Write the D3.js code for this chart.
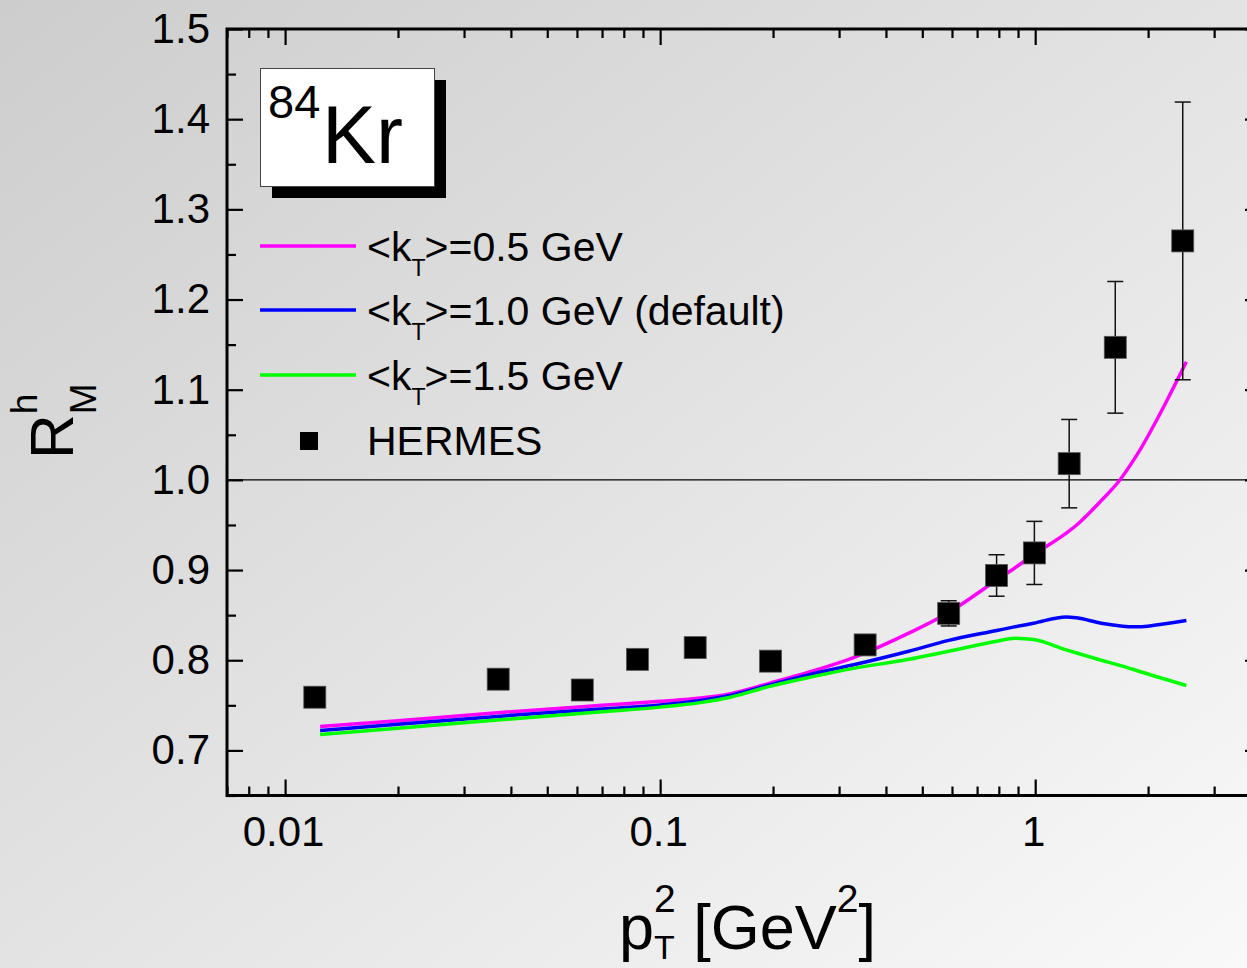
<!DOCTYPE html>
<html>
<head>
<meta charset="utf-8">
<script src="https://cdn.jsdelivr.net/npm/d3@7"></script>
<style>
  html, body { margin: 0; padding: 0; background: #e3e3e3; }
  svg { display: block; font-family: Arial, "Liberation Sans", Helvetica, sans-serif; }
</style>
</head>
<body>
<svg id="chart" width="1247" height="968"></svg>
<script>
// HERMES data: R_M^h versus p_T^2 for 84Kr
const hermesPt2 = [0.012, 0.037, 0.062, 0.087, 0.124, 0.197, 0.352, 0.588, 0.789, 0.995, 1.232, 1.635, 2.474];
const hermesR   = [0.759, 0.779, 0.767, 0.801, 0.814, 0.799, 0.817, 0.852, 0.894, 0.919, 1.018, 1.147, 1.265];
const hermesErr = [0.008, 0.008, 0.008, 0.008, 0.008, 0.008, 0.008, 0.014, 0.023, 0.035, 0.049, 0.073, 0.154];

// model curves for three values of <k_T>
const curvePt2 = [0.0124, 0.02, 0.0375, 0.07, 0.1, 0.128, 0.154, 0.196, 0.25, 0.328, 0.46, 0.588, 0.79, 0.88, 0.99, 1.21, 1.29, 1.5, 1.69, 1.82, 1.9, 2.1, 2.53];
const kt05 = [0.7265, 0.733, 0.742, 0.750, 0.7545, 0.758, 0.763, 0.7746, 0.787, 0.803, 0.830, 0.853, 0.889, 0.902, 0.917, 0.941, 0.950, 0.977, 1.001, 1.0205, 1.0327, 1.065, 1.131];
const kt10 = [0.722, 0.729, 0.738, 0.746, 0.7505, 0.7555, 0.761, 0.7725, 0.784, 0.795, 0.810, 0.822, 0.833, 0.837, 0.841, 0.848, 0.847, 0.841, 0.838, 0.837, 0.837, 0.839, 0.844];
const kt15 = [0.7176, 0.7245, 0.734, 0.743, 0.748, 0.753, 0.759, 0.771, 0.781, 0.791, 0.801, 0.810, 0.821, 0.8245, 0.823, 0.8115, 0.808, 0.800, 0.794, 0.790, 0.7875, 0.782, 0.772];

const seriesNames  = ["=0.5 GeV", "=1.0 GeV (default)", "=1.5 GeV"];
const seriesColors = ["#ff00ff", "#0000ff", "#00ff00"];

// axis ticks
const xMajor = [0.01, 0.1, 1];
const xMajorLabels = ["0.01", "0.1", "1"];
const yMajor = [0.7, 0.8, 0.9, 1.0, 1.1, 1.2, 1.3, 1.4, 1.5];
const yMajorLabels = ["0.7", "0.8", "0.9", "1.0", "1.1", "1.2", "1.3", "1.4", "1.5"];
const yMinor = [0.65, 0.75, 0.85, 0.95, 1.05, 1.15, 1.25, 1.35, 1.45];

const W = 1247, H = 968;
const plot = { left: 227, top: 29, right: 1261, bottom: 795.5 };

const svg = d3.select("#chart");

// background
const defs = svg.append("defs");
const grad = defs.append("linearGradient").attr("id", "bg")
  .attr("x1", 0).attr("y1", 0).attr("x2", 1).attr("y2", 1);
grad.append("stop").attr("offset", "0%").attr("stop-color", "#cdcdcd");
grad.append("stop").attr("offset", "100%").attr("stop-color", "#f9f9f9");
svg.append("rect").attr("width", W).attr("height", H).attr("fill", "url(#bg)");

const x = d3.scaleLog().domain([0.007, 4]).range([plot.left, plot.right]);
const y = d3.scaleLinear().domain([0.65, 1.5]).range([plot.bottom, plot.top]);

// minor x ticks: 2..9 in every decade inside the domain
const xMinor = [];
[0.001, 0.01, 0.1, 1].forEach(d => { for (let k = 2; k <= 9; k++) { const v = d * k; if (v >= 0.007 && v <= 4) xMinor.push(v); } });

const tickFont = 42;
function styleAxis(g) {
  g.select(".domain").remove();
  g.selectAll(".tick line").attr("stroke", "#000").attr("stroke-width", 2.2);
  g.selectAll(".tick text").attr("fill", "#000").attr("font-size", tickFont).attr("font-family", null);
}

// bottom axis
svg.append("g").attr("transform", `translate(0,${plot.bottom})`)
  .call(d3.axisBottom(x).tickValues(xMajor).tickSizeInner(-16).tickSizeOuter(0).tickPadding(21)
    .tickFormat((d, i) => xMajorLabels[i]))
  .call(styleAxis)
  .call(g => g.selectAll(".tick text").attr("dx", -2));
svg.append("g").attr("transform", `translate(0,${plot.bottom})`)
  .call(d3.axisBottom(x).tickValues(xMinor).tickSizeInner(-9).tickSizeOuter(0).tickFormat(""))
  .call(styleAxis);
// top axis
svg.append("g").attr("transform", `translate(0,${plot.top})`)
  .call(d3.axisTop(x).tickValues(xMajor).tickSizeInner(-16).tickSizeOuter(0).tickFormat(""))
  .call(styleAxis);
svg.append("g").attr("transform", `translate(0,${plot.top})`)
  .call(d3.axisTop(x).tickValues(xMinor).tickSizeInner(-9).tickSizeOuter(0).tickFormat(""))
  .call(styleAxis);
// left axis
svg.append("g").attr("transform", `translate(${plot.left},0)`)
  .call(d3.axisLeft(y).tickValues(yMajor).tickSizeInner(-16).tickSizeOuter(0).tickPadding(17)
    .tickFormat((d, i) => yMajorLabels[i]))
  .call(styleAxis);
svg.append("g").attr("transform", `translate(${plot.left},0)`)
  .call(d3.axisLeft(y).tickValues(yMinor).tickSizeInner(-9).tickSizeOuter(0).tickFormat(""))
  .call(styleAxis);
// right axis
svg.append("g").attr("transform", `translate(${plot.right},0)`)
  .call(d3.axisRight(y).tickValues(yMajor).tickSizeInner(-16).tickSizeOuter(0).tickFormat(""))
  .call(styleAxis);
svg.append("g").attr("transform", `translate(${plot.right},0)`)
  .call(d3.axisRight(y).tickValues(yMinor).tickSizeInner(-9).tickSizeOuter(0).tickFormat(""))
  .call(styleAxis);

// frame
svg.append("rect")
  .attr("x", plot.left).attr("y", plot.top)
  .attr("width", plot.right - plot.left).attr("height", plot.bottom - plot.top)
  .attr("fill", "none").attr("stroke", "#000").attr("stroke-width", 3);

// reference line at R = 1
svg.append("line")
  .attr("x1", x(0.007)).attr("x2", x(4)).attr("y1", y(1.0)).attr("y2", y(1.0))
  .attr("stroke", "#000").attr("stroke-width", 1.4);

// model curves
const line = d3.line().x(d => x(d[0])).y(d => y(d[1])).curve(d3.curveMonotoneX);
[kt05, kt10, kt15].forEach((vals, i) => {
  svg.append("path")
    .datum(curvePt2.map((p, j) => [p, vals[j]]))
    .attr("d", line)
    .attr("fill", "none")
    .attr("stroke", seriesColors[i])
    .attr("stroke-width", 3.5)
    .attr("stroke-linejoin", "round");
});

// HERMES points with error bars
const pts = hermesPt2.map((p, i) => ({ p, r: hermesR[i], e: hermesErr[i] }));
const capW = 8;
const eb = svg.append("g").attr("stroke", "#111").attr("stroke-width", 1.5);
pts.forEach(d => {
  const cx = x(d.p);
  eb.append("line").attr("x1", cx).attr("x2", cx).attr("y1", y(d.r + d.e)).attr("y2", y(d.r - d.e));
  eb.append("line").attr("x1", cx - capW).attr("x2", cx + capW).attr("y1", y(d.r + d.e)).attr("y2", y(d.r + d.e));
  eb.append("line").attr("x1", cx - capW).attr("x2", cx + capW).attr("y1", y(d.r - d.e)).attr("y2", y(d.r - d.e));
});
const sq = 22;
svg.append("g").selectAll("rect").data(pts).join("rect")
  .attr("x", d => x(d.p) - sq / 2).attr("y", d => y(d.r) - sq / 2)
  .attr("width", sq).attr("height", sq)
  .attr("fill", "#000").attr("stroke", "#555").attr("stroke-width", 0.8);

// nucleus label box with drop shadow
svg.append("rect").attr("x", 272).attr("y", 80).attr("width", 174).attr("height", 118).attr("fill", "#000");
svg.append("rect").attr("x", 260.5).attr("y", 68.5).attr("width", 174).attr("height", 118)
  .attr("fill", "#fff").attr("stroke", "#444").attr("stroke-width", 1);
svg.append("text").attr("x", 268).attr("y", 118).attr("font-size", 47).text("84");
svg.append("text").attr("x", 322).attr("y", 163).attr("font-size", 81).text("Kr");

// legend
const legFont = 41;
const legX = 367;
const legY = [246, 310, 375];
seriesNames.forEach((name, i) => {
  svg.append("line").attr("x1", 260).attr("x2", 356).attr("y1", legY[i]).attr("y2", legY[i])
    .attr("stroke", seriesColors[i]).attr("stroke-width", 3.5);
  const g = svg.append("g");
  const base = legY[i] + 15;
  const t1 = g.append("text").attr("x", legX).attr("y", base).attr("font-size", legFont).text("<k");
  const w1 = t1.node().getComputedTextLength();
  const t2 = g.append("text").attr("x", legX + w1).attr("y", base + 15).attr("font-size", 23).text("T");
  const w2 = t2.node().getComputedTextLength();
  g.append("text").attr("x", legX + w1 + w2 - 1).attr("y", base).attr("font-size", legFont).text(">" + name);
});
svg.append("rect").attr("x", 300).attr("y", 432).attr("width", 18).attr("height", 18).attr("fill", "#000");
svg.append("text").attr("x", legX).attr("y", 455).attr("font-size", legFont).text("HERMES");

// x axis title: p_T^2 [GeV^2]
{
  const g = svg.append("g");
  const base = 949, big = 63, small = 39;
  let cx = 619;
  const p = g.append("text").attr("x", cx).attr("y", base).attr("font-size", big).text("p");
  cx += p.node().getComputedTextLength();
  const sub = g.append("text").attr("x", cx).attr("y", 959).attr("font-size", small - 5).text("T");
  const sup = g.append("text").attr("x", cx).attr("y", base - 37).attr("font-size", small).text("2");
  cx += Math.max(sub.node().getComputedTextLength(), sup.node().getComputedTextLength());
  const t = g.append("text").attr("x", cx).attr("y", base).attr("font-size", big).text("\u00a0[GeV");
  cx += t.node().getComputedTextLength();
  const s2 = g.append("text").attr("x", cx).attr("y", base - 37).attr("font-size", small).text("2");
  cx += s2.node().getComputedTextLength();
  g.append("text").attr("x", cx).attr("y", base).attr("font-size", big).text("]");
}

// y axis title: R_M^h (rotated)
{
  const g = svg.append("g").attr("transform", "rotate(-90)");
  const base = 73, big = 62, small = 37;
  let cx = -459;
  const r = g.append("text").attr("x", cx).attr("y", base).attr("font-size", big).text("R");
  cx += r.node().getComputedTextLength();
  g.append("text").attr("x", cx).attr("y", base - 36).attr("font-size", small).text("h");
  g.append("text").attr("x", cx).attr("y", base + 23).attr("font-size", small).text("M");
}
</script>
</body>
</html>
